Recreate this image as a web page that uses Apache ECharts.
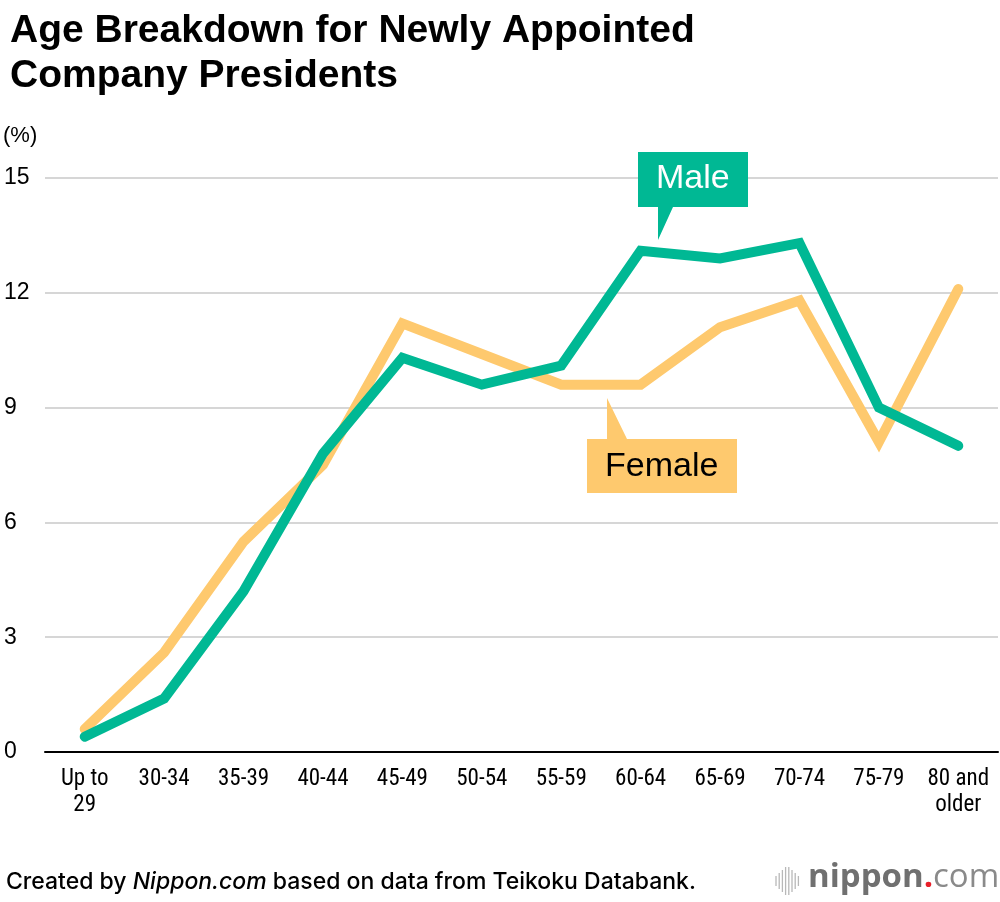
<!DOCTYPE html>
<html><head><meta charset="utf-8">
<script src="https://cdn.jsdelivr.net/npm/echarts@6/dist/echarts.min.js"></script>
<style>html,body{margin:0;padding:0;background:#fff}#c{width:1000px;height:902px}</style>
</head><body><div id="c"></div>
<script>
const categories = ['Up to\n29','30-34','35-39','40-44','45-49','50-54','55-59','60-64','65-69','70-74','75-79','80 and\nolder'];
const maleValues = [0.4,1.4,4.2,7.8,10.3,9.6,10.1,13.1,12.9,13.3,9.0,8.0];
const femaleValues = [0.6,2.6,5.5,7.5,11.2,10.4,9.6,9.6,11.1,11.8,8.1,12.1];
const yTicks = [0,3,6,9,12,15];

const GREEN = '#00b894', YELLOW = '#fec96e';
const chart = echarts.init(document.getElementById('c'));
const narrow = '"Liberation Sans Narrow","Roboto Condensed","Liberation Sans",sans-serif';
const sans = '"Liberation Sans",Arial,sans-serif';
const logoBars = [];
const barH = [10,16,22,28,28,22,16,10];
for (let i=0;i<barH.length;i++){
  logoBars.push({type:'line',shape:{x1:776+i*3.2,y1:881-barH[i]/2,x2:776+i*3.2,y2:881+barH[i]/2},style:{stroke:'#b8b8b8',lineWidth:1.3}});
}
chart.setOption({
  animation:false,
  title:{text:'Age Breakdown for Newly Appointed\nCompany Presidents',left:5,top:4,
    textStyle:{fontFamily:sans,fontWeight:'bold',fontSize:39,lineHeight:45,color:'#000'}},
  grid:{left:45,right:2,top:178,bottom:150},
  xAxis:{type:'category',data:categories,boundaryGap:true,
    axisLine:{lineStyle:{color:'#000',width:2}},axisTick:{show:false},
    axisLabel:{interval:0,fontFamily:narrow,fontSize:23,color:'#000',lineHeight:26,margin:14}},
  yAxis:{type:'value',min:0,max:15,interval:3,name:'(%)',nameLocation:'end',
    nameTextStyle:{fontFamily:sans,fontSize:22,color:'#000',align:'left',padding:[0,0,16,-42]},
    axisLine:{show:false},axisTick:{show:false},
    splitLine:{lineStyle:{color:'#c8c8c8',width:1.5}},
    axisLabel:{fontFamily:sans,fontSize:23,color:'#000',align:'left',margin:41,
      formatter:v=>yTicks.includes(v)?String(v):''}},
  series:[
    {name:'Female',type:'line',data:femaleValues,symbol:'none',z:2,
      lineStyle:{color:YELLOW,width:10,cap:'round',join:'miter'}},
    {name:'Male',type:'line',data:maleValues,symbol:'none',z:3,
      lineStyle:{color:GREEN,width:10,cap:'round',join:'miter'}}
  ],
  graphic:[
    {type:'polygon',shape:{points:[[638,152],[748,152],[748,207],[673,207],[658,240],[658,207],[638,207]]},style:{fill:GREEN},z:10},
    {type:'text',left:656,top:162,style:{text:'Male',fill:'#fff',font:'34px "Liberation Sans",Arial,sans-serif'},z:11},
    {type:'text',left:605,top:450,style:{text:'Female',fill:'#000',font:'34px "Liberation Sans",Arial,sans-serif'},z:11},
    {type:'polygon',shape:{points:[[607,398],[627,439],[737,439],[737,493],[587,493],[587,439],[607,439]]},style:{fill:YELLOW},z:10},
    {type:'text',left:6,top:871,style:{rich:{
        a:{fontFamily:'Inter,"Liberation Sans",sans-serif',fontSize:23,fontWeight:500,fill:'#000'},
        b:{fontFamily:'Inter,"Liberation Sans",sans-serif',fontSize:23,fontWeight:500,fontStyle:'italic',fill:'#000'}},
      text:'{a|Created by }{b|Nippon.com}{a| based on data from Teikoku Databank.}'},z:11},
    ...logoBars,
    {type:'text',left:808,top:861,style:{rich:{
        n:{fontFamily:'"Open Sans","DejaVu Sans",sans-serif',fontSize:33,fontWeight:'bold',fill:'#707070'},
        d:{fontFamily:'"Open Sans","DejaVu Sans",sans-serif',fontSize:33,fontWeight:'bold',fill:'#e8202a'},
        c:{fontFamily:'"Open Sans","DejaVu Sans",sans-serif',fontSize:33,fill:'#8a8a8a'}},
      text:'{n|nippon}{d|.}{c|com}'},z:11}
  ]
});
</script></body></html>
